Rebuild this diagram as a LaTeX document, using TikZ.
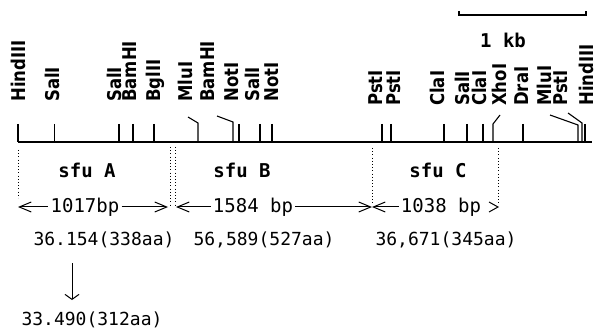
\documentclass[tikz,border=0pt]{standalone}
\usepackage{fontspec}
\setmainfont{DejaVu Sans}
\newfontfamily\sitefont{DejaVu Sans}
\newfontfamily\typefont{DejaVu Sans Mono}
\usetikzlibrary{arrows.meta}

% glyphs of the site names are set a little taller than wide
\newcommand{\sitename}[1]{\scalebox{1}[1.15]{#1}}

\tikzset{
  site/.style={rotate=90, anchor=west, inner sep=0pt,
    font=\sitefont\bfseries\fontsize{16.5}{18}\selectfont},
  cut/.style={line width=1.1pt},
  mapline/.style={line width=1.3pt},
  guide/.style={line width=0.9pt, dash pattern=on 1pt off 2.2pt},
  gene/.style={inner sep=0pt, font=\typefont\bfseries\fontsize{19}{20}\selectfont},
  len/.style={inner sep=2pt, font=\typefont\fontsize{19}{20}\selectfont},
  prot/.style={inner sep=0pt, font=\typefont\fontsize{18}{20}\selectfont},
  span/.style={line width=1pt},
  barb/.tip={Straight Barb[length=12pt,width=10pt,line width=1pt]},
  smallbarb/.tip={Straight Barb[length=5pt,width=14pt,line width=1pt]}
}

\begin{document}
\begin{tikzpicture}[x=1pt,y=-1pt]
\useasboundingbox (0,0) rectangle (597,331);

% scale bar
\draw[cut] (459,11) -- (459,15) -- (586,15) -- (586,11);
\node[gene] (kb) at (503,40) {1 kb};

% restriction site names, left part
\foreach \x/\t/\n in {18/HindIII/a1, 52/SalI/a2, 114/SalI/a3, 130/BamHI/a4,
    155/BglII/a5, 185/MluI/a6, 208/BamHI/a7, 232/NotI/a8, 252/SalI/a9, 272/NotI/a10}
  \node[site] (\n) at (\x,102) {\sitename{\t}};
% restriction site names, right part
\foreach \x/\t/\n in {376/PstI/b1, 394/PstI/b2, 437/ClaI/b3, 462/SalI/b4,
    479/ClaI/b5, 499/XhoI/b6, 522/DraI/b7, 544/MluI/b8, 561/PstI/b9, 586/HindIII/b10}
  \node[site] (\n) at (\x,106) {\sitename{\t}};

% the map line and its cut sites
\draw[mapline] (18,142) -- (592,142);
\foreach \x in {18,119,133,154,239,260,272,382,391,444,467,483,523,585}
  \draw[cut] (\x,124) -- (\x,142);
\draw[line width=0.6pt] (54,124) -- (54,142);
\draw[cut] (188,117) -- (198,123) -- (198,142);
\draw[cut] (217,116) -- (233,122) -- (233,142);
\draw[cut] (500,115) -- (493,124) -- (493,142);
\draw[cut] (550,115) -- (578,125) -- (578,142);
\draw[cut] (568,113) -- (582,123) -- (582,142);

% gene borders
\draw[guide] (18,150) -- (18,198);
\draw[guide] (170,147) -- (170,207);
\draw[guide] (175,147) -- (175,207);
\draw[guide] (372,148) -- (372,204);
\draw[guide] (498,148) -- (498,205);

% gene names
\node[gene] (sfuA) at (87,170) {sfu A};
\node[gene] (sfuB) at (242,170) {sfu B};
\node[gene] (sfuC) at (438,170) {sfu C};

% gene lengths
\coordinate (a0) at (18,207);
\coordinate (a1e) at (168,207);
\coordinate (b0) at (176,207);
\coordinate (b1e) at (372,207);
\coordinate (c1e) at (498,207);
\node[len] (lA) at (85,207) {1017bp};
\node[len] (lB) at (253,207) {1584 bp};
\node[len] (lC) at (441,207) {1038 bp};
\draw[span,{barb}-] (a0) -- (lA.west);
\draw[span,-{barb}] (lA.east) -- (a1e);
\draw[span,{barb}-] (b0) -- (lB.west);
\draw[span,-{barb}] (lB.east) -- (b1e);
\draw[span,{barb}-] (b1e) -- (lC.west);
\draw[span] ([xshift=-9pt,yshift=-5pt]c1e) -- (c1e) -- ([xshift=-9pt,yshift=5pt]c1e);

% protein sizes
\node[prot] (pA) at (104,240) {36.154(338aa)};
\node[prot] (pB) at (264,240) {56,589(527aa)};
\node[prot] (pC) at (446,240) {36,671(345aa)};
\node[prot] (pA2) at (92,320) {33.490(312aa)};
\coordinate (dTop) at (72,263);
\coordinate (dEnd) at (72,300);
\draw[span,-{smallbarb}] (dTop) -- (dEnd);
\end{tikzpicture}
\end{document}
